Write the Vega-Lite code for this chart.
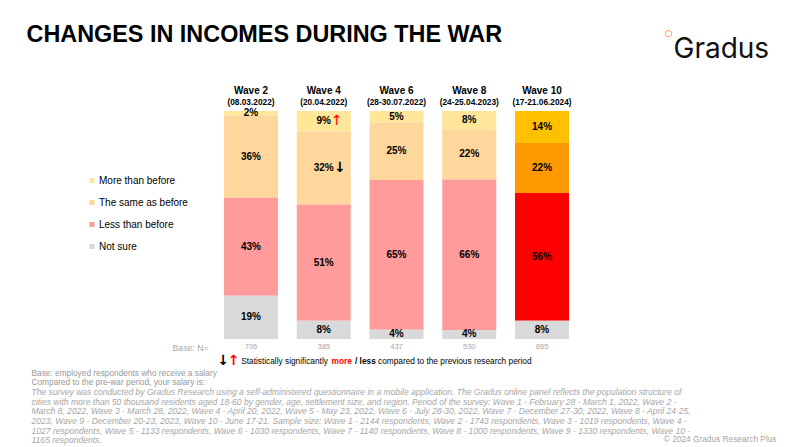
{
  "$schema": "https://vega.github.io/schema/vega-lite/v6.json",
  "autosize": {"type": "none"},
  "width": 345,
  "height": 228,
  "padding": {"left": 224, "top": 111, "right": 231, "bottom": 108},
  "background": "white",
  "datasets": {
    "answers": [
      {"wave": "Wave 2", "answer": "More than before", "pct": 0.02},
      {"wave": "Wave 2", "answer": "The same as before", "pct": 0.36},
      {"wave": "Wave 2", "answer": "Less than before", "pct": 0.43},
      {"wave": "Wave 2", "answer": "Not sure", "pct": 0.19},
      {"wave": "Wave 4", "answer": "More than before", "pct": 0.09, "sig": "up"},
      {"wave": "Wave 4", "answer": "The same as before", "pct": 0.32, "sig": "down"},
      {"wave": "Wave 4", "answer": "Less than before", "pct": 0.51},
      {"wave": "Wave 4", "answer": "Not sure", "pct": 0.08},
      {"wave": "Wave 6", "answer": "More than before", "pct": 0.05},
      {"wave": "Wave 6", "answer": "The same as before", "pct": 0.25},
      {"wave": "Wave 6", "answer": "Less than before", "pct": 0.65},
      {"wave": "Wave 6", "answer": "Not sure", "pct": 0.04},
      {"wave": "Wave 8", "answer": "More than before", "pct": 0.08},
      {"wave": "Wave 8", "answer": "The same as before", "pct": 0.22},
      {"wave": "Wave 8", "answer": "Less than before", "pct": 0.66},
      {"wave": "Wave 8", "answer": "Not sure", "pct": 0.04},
      {"wave": "Wave 10", "answer": "More than before", "pct": 0.14},
      {"wave": "Wave 10", "answer": "The same as before", "pct": 0.22},
      {"wave": "Wave 10", "answer": "Less than before", "pct": 0.56},
      {"wave": "Wave 10", "answer": "Not sure", "pct": 0.08}
    ],
    "waves": [
      {"wave": "Wave 2", "period": "(08.03.2022)", "n": 706},
      {"wave": "Wave 4", "period": "(20.04.2022)", "n": 385},
      {"wave": "Wave 6", "period": "(28-30.07.2022)", "n": 437},
      {"wave": "Wave 8", "period": "(24-25.04.2023)", "n": 530},
      {"wave": "Wave 10", "period": "(17-21.06.2024)", "n": 865}
    ]
  },
  "layer": [
    {
      "data": {"name": "answers"},
      "transform": [
        {"calculate": "indexof(['Not sure', 'Less than before', 'The same as before', 'More than before'], datum.answer)", "as": "rank"},
        {"stack": "pct", "groupby": ["wave"], "sort": [{"field": "rank", "order": "ascending"}], "offset": "normalize", "as": ["y0", "y1"]},
        {"calculate": "(datum.y0 + datum.y1) / 2", "as": "mid"}
      ],
      "layer": [
        {
          "transform": [{"filter": "datum.wave != 'Wave 10'"}],
          "mark": "bar",
          "encoding": {
            "x": {
              "field": "wave", "type": "nominal",
              "scale": {"domain": ["Wave 2", "Wave 4", "Wave 6", "Wave 8", "Wave 10"], "paddingInner": 0.258, "paddingOuter": 0},
              "axis": {"orient": "top", "title": "CHANGES IN INCOMES DURING THE WAR", "titleX": -198, "titleY": -70, "titleAlign": "left", "titleBaseline": "alphabetic", "titleFontSize": 23.4, "titleFontWeight": "bold", "titleColor": "#000000"}
            },
            "y": {
              "field": "y0", "type": "quantitative",
              "scale": {"domain": [0, 1], "nice": false},
              "axis": {"orient": "left", "title": "Gradus", "titleX": 449, "titleY": -54, "titleAngle": 0, "titleAlign": "left", "titleBaseline": "alphabetic", "titleFont": "Inter", "titleFontSize": 28, "titleFontWeight": 400, "titleColor": "#111111"}
            },
            "y2": {"field": "y1"},
            "color": {
              "field": "answer", "type": "nominal",
              "scale": {"domain": ["More than before", "The same as before", "Less than before", "Not sure"], "range": ["#FFE699", "#FFD79C", "#FF9B9B", "#D9D9D9"]},
              "legend": {"orient": "none", "legendX": -137, "legendY": 64.5, "title": null, "symbolType": "square", "symbolSize": 25, "symbolStrokeWidth": 0, "labelFontSize": 10, "labelColor": "#000000", "rowPadding": 12, "labelOffset": 2}
            }
          }
        },
        {
          "transform": [{"filter": "datum.wave == 'Wave 10'"}],
          "mark": "bar",
          "encoding": {
            "x": {
              "field": "wave", "type": "nominal",
              "axis": {"orient": "top", "title": "○", "titleX": 444, "titleY": -79, "titleAlign": "center", "titleBaseline": "middle", "titleFont": "DejaVu Sans", "titleFontSize": 9, "titleFontWeight": "bold", "titleColor": "#FF5B14"}
            },
            "y": {
              "field": "y0", "type": "quantitative",
              "axis": {"orient": "left", "title": "© 2024 Gradus Research Plus", "titleX": 552, "titleY": 330, "titleAngle": 0, "titleAlign": "right", "titleBaseline": "alphabetic", "titleFontSize": 8.3, "titleFontWeight": "normal", "titleColor": "#a6a6a6"}
            },
            "y2": {"field": "y1"},
            "color": {
              "field": "answer", "type": "nominal",
              "scale": {"domain": ["More than before", "The same as before", "Less than before", "Not sure"], "range": ["#FFC000", "#FF9900", "#FF0000", "#D9D9D9"]},
              "legend": null
            }
          }
        },
        {
          "mark": {"type": "text", "fontSize": 10, "fontWeight": "bold", "color": "#000000", "baseline": "middle"},
          "encoding": {
            "x": {
              "field": "wave", "type": "nominal",
              "axis": {"orient": "top", "title": ["Base: employed respondents who receive a salary", "Compared to the pre-war period, your salary is:"], "titleX": -193, "titleY": 264.3, "titleAlign": "left", "titleBaseline": "alphabetic", "titleFontSize": 8.3, "titleFontWeight": "normal", "titleLineHeight": 9.6, "titleColor": "#999999"}
            },
            "y": {
              "field": "mid", "type": "quantitative",
              "axis": {"orient": "left", "title": [
                "The survey was conducted by Gradus Research using a self-administered questionnaire in a mobile application. The Gradus online panel reflects the population structure of",
                "cities with more than 50 thousand residents aged 18-60 by gender, age, settlement size, and region. Period of the survey: Wave 1 - February 28 - March 1, 2022, Wave 2 -",
                "March 8, 2022, Wave 3 - March 28, 2022, Wave 4 - April 20, 2022, Wave 5 - May 23, 2022, Wave 6 - July 28-30, 2022, Wave 7 - December 27-30, 2022, Wave 8 - April 24-25,",
                "2023, Wave 9 - December 20-23, 2023, Wave 10 - June 17-21. Sample size: Wave 1 - 2144 respondents, Wave 2 - 1743 respondents, Wave 3 - 1019 respondents, Wave 4 -",
                "1027 respondents, Wave 5 - 1133 respondents, Wave 6 - 1030 respondents, Wave 7 - 1140 respondents, Wave 8 - 1000 respondents, Wave 9 - 1330 respondents, Wave 10 -",
                "1165 respondents."
              ], "titleX": -193, "titleY": 283.7, "titleAngle": 0, "titleAlign": "left", "titleBaseline": "alphabetic", "titleFontSize": 8.55, "titleFontWeight": "normal", "titleFontStyle": "italic", "titleLineHeight": 9.65, "titleColor": "#a6a6a6"}
            },
            "text": {"field": "pct", "format": ".0%"}
          }
        },
        {
          "transform": [{"filter": "datum.sig == 'up'"}],
          "mark": {"type": "text", "text": "↑", "font": "DejaVu Sans", "fontSize": 14, "color": "#FF0000", "baseline": "middle", "dx": 13},
          "encoding": {
            "x": {
              "field": "wave", "type": "nominal",
              "axis": {"orient": "top", "title": "↑", "titleX": 9, "titleY": 249, "titleAlign": "center", "titleBaseline": "middle", "titleFont": "DejaVu Sans", "titleFontSize": 14, "titleFontWeight": "bold", "titleColor": "#FF0000"}
            },
            "y": {
              "field": "mid", "type": "quantitative",
              "axis": {"orient": "left", "title": "Base: N=", "titleX": -16, "titleY": 239, "titleAngle": 0, "titleAlign": "right", "titleBaseline": "alphabetic", "titleFontSize": 8.7, "titleFontWeight": "normal", "titleColor": "#a6a6a6"}
            }
          }
        },
        {
          "transform": [{"filter": "datum.sig == 'down'"}],
          "mark": {"type": "text", "text": "↓", "font": "DejaVu Sans", "fontSize": 14, "fontWeight": "bold", "color": "#000000", "baseline": "middle", "dx": 16},
          "encoding": {
            "x": {
              "field": "wave", "type": "nominal",
              "axis": {"orient": "top", "title": "↓", "titleX": -1.3, "titleY": 249, "titleAlign": "center", "titleBaseline": "middle", "titleFont": "DejaVu Sans", "titleFontSize": 14, "titleFontWeight": "bold", "titleColor": "#000000"}
            },
            "y": {
              "field": "mid", "type": "quantitative",
              "axis": {"orient": "left", "title": "Statistically significantly", "titleX": 16.7, "titleY": 252, "titleAngle": 0, "titleAlign": "left", "titleBaseline": "alphabetic", "titleFontSize": 8.3, "titleFontWeight": "normal", "titleColor": "#000000"}
            }
          }
        }
      ],
      "resolve": {"scale": {"color": "independent"}, "axis": {"x": "independent", "y": "independent"}}
    },
    {
      "data": {"name": "waves"},
      "layer": [
        {
          "mark": {"type": "text", "fontSize": 10, "fontWeight": "bold", "color": "#000000", "baseline": "middle", "dy": -20},
          "encoding": {
            "x": {
              "field": "wave", "type": "nominal",
              "axis": {"orient": "top", "title": "more", "titleX": 107, "titleY": 252, "titleAlign": "left", "titleBaseline": "alphabetic", "titleFontSize": 8.3, "titleFontWeight": "bold", "titleColor": "#FF0000"}
            },
            "y": {
              "datum": 1,
              "axis": {"orient": "left", "title": "/ less", "titleX": 130.5, "titleY": 252, "titleAngle": 0, "titleAlign": "left", "titleBaseline": "alphabetic", "titleFontSize": 8.3, "titleFontWeight": "bold", "titleColor": "#000000"}
            },
            "text": {"field": "wave"}
          }
        },
        {
          "mark": {"type": "text", "fontSize": 8.3, "fontWeight": "bold", "color": "#000000", "baseline": "middle", "dy": -8},
          "encoding": {
            "x": {
              "field": "wave", "type": "nominal",
              "axis": {"orient": "top", "title": "compared to the previous research period", "titleX": 153.5, "titleY": 252, "titleAlign": "left", "titleBaseline": "alphabetic", "titleFontSize": 8.3, "titleFontWeight": "normal", "titleColor": "#000000"}
            },
            "y": {"datum": 1, "axis": null},
            "text": {"field": "period"}
          }
        },
        {
          "mark": {"type": "text", "fontSize": 7.6, "color": "#a6a6a6", "baseline": "middle", "dy": 8},
          "encoding": {
            "x": {"field": "wave", "type": "nominal", "axis": null},
            "y": {"datum": 0, "axis": null},
            "text": {"field": "n"}
          }
        }
      ],
      "resolve": {"axis": {"x": "independent", "y": "independent"}}
    }
  ],
  "resolve": {"axis": {"x": "independent", "y": "independent"}},
  "config": {
    "view": {"stroke": null},
    "font": "Liberation Sans",
    "axis": {"domain": false, "ticks": false, "labels": false, "grid": false}
  }
}
